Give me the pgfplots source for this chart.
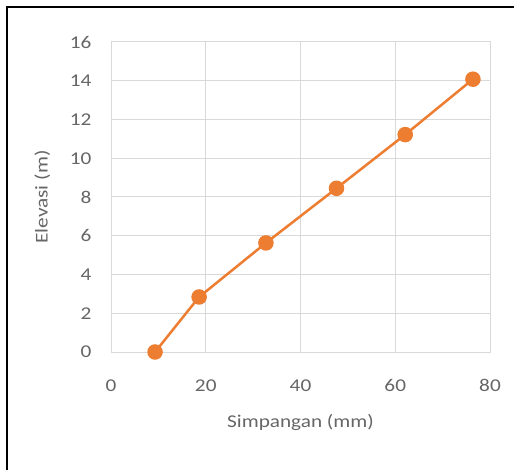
\documentclass[border=0pt]{standalone}
\usepackage{pgfplots}
\pgfplotsset{compat=1.18}
\usepackage{fontspec}
\setmainfont{Carlito}[FakeStretch=1.18]
\definecolor{txt}{HTML}{666666}
\definecolor{gridc}{HTML}{D9D9D9}
\definecolor{org}{HTML}{ED7D31}
\begin{document}
\begin{tikzpicture}
\useasboundingbox (0,0) rectangle (514bp,470bp);
\fill[white] (0,0) rectangle (514bp,470bp);
\draw[black, line width=2.5bp] (7bp,0) -- (7bp,463bp) -- (514bp,463bp);
\begin{axis}[
    at={(111bp,118bp)}, anchor=south west,
    scale only axis, width=379bp, height=310bp,
    xmin=0, xmax=80, ymin=0, ymax=16,
    xtick={0,20,40,60,80},
    ytick={0,2,4,6,8,10,12,14,16},
    grid=major,
    major grid style={gridc, line width=1bp},
    axis line style={gridc, line width=1bp},
    major tick length=0pt,
    tick label style={font=\fontsize{18bp}{20bp}\selectfont, text=txt},
    label style={font=\fontsize{18bp}{20bp}\selectfont, text=txt},
    /pgf/number format/assume math mode=true,
    yticklabel style={xshift=-16bp},
    xticklabel style={yshift=-24bp},
    xlabel={Simpangan (mm)},
    ylabel={Elevasi (m)},
    xlabel style={yshift=-16bp},
    ylabel style={yshift=13bp},
    clip=false,
]
\addplot[color=org, line width=2.5bp, mark=*, mark size=6.5bp,
         mark options={fill=org, draw=org}]
  coordinates {(9.3,0) (18.6,2.84) (32.7,5.63) (47.6,8.45) (62.1,11.22) (76.4,14.08)};
\end{axis}
\end{tikzpicture}
\end{document}
